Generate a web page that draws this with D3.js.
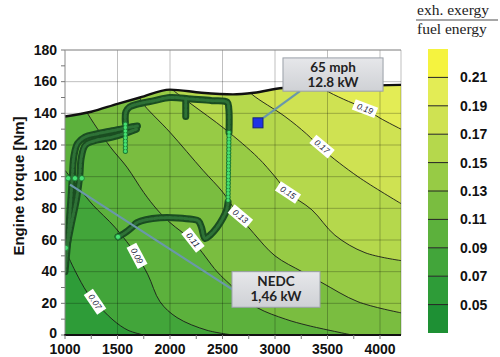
<!DOCTYPE html>
<html><head><meta charset="utf-8">
<script src="https://cdn.jsdelivr.net/npm/d3@7"></script>
<style>body{margin:0;background:#fff}svg{display:block}</style>
</head><body><svg id="c" width="500" height="357"></svg>
<script>
// ---------- data ----------
const xTicks = [1000,1500,2000,2500,3000,3500,4000];
const yTicks = [0,20,40,60,80,100,120,140,160,180];
const levels = [0.07,0.09,0.11,0.13,0.15,0.17,0.19];
const cbTicks = [0.05,0.07,0.09,0.11,0.13,0.15,0.17,0.19,0.21];
const cbColors = ["#1e9034","#2e9c38","#42a53a","#5cb13c","#7abd40","#97cb45","#b5d84c","#cfe252","#e3ec55","#f5f33f"];
const fullLoad = [[1000,138],[1250,141],[1500,146],[1714,150],[2000,155],[2300,153],[2600,152],[2800,153],[3076,156],[3500,157],[4200,158]];
const c07 = [[1000,54],[1100,40],[1210,27],[1286,21],[1457,9.5],[1600,3],[1750,0]];
const c09 = [[1000,104],[1143,92],[1267,82],[1476,68],[1686,50],[1790,38],[1905,21],[2067,11],[2352,3],[2600,0]];
const c11 = [[1180,145],[1206,141],[1429,119],[1590,106],[1750,90],[1880,79],[2000,71],[2219,59],[2448,40],[2571,32],[2700,24],[2838,17],[3100,10],[3314,6],[3733,0]];
const c13 = [[1700,152],[1733,147],[2000,128],[2314,104],[2505,90],[2650,76],[2800,64],[3000,50],[3257,40],[3448,33],[3790,21],[4200,14]];
const c15 = [[2000,156],[2200,146],[2524,130],[2838,112],[3000,100],[3124,90],[3352,79],[3571,63],[3857,52],[4200,47]];
const c17 = [[2700,158],[2781,152],[3095,138],[3300,127],[3457,117],[3790,100],[4200,83]];
const c19 = [[3400,160],[3476,155],[3650,149],[3857,143],[4000,137],[4200,130]];
const contours = [c07,c09,c11,c13,c15,c17,c19];
const labelPos = [[1286,21],[1686,50],[2219,60],[2670,75],[3124,90],[3448,119],[3857,143]];
const labelAngle = [56,62,52,40,33,40,21];
// operating-point traces (rpm, Nm)
const traceS1 = [[1000,40],[1030,62],[1055,85],[1070,100],[1085,113],[1120,121],[1190,125],[1300,127],[1450,129],[1600,131],[1690,132]];
const traceS2 = [[1000,50],[1060,70],[1110,86],[1140,100],[1155,112],[1195,120],[1300,123],[1450,125],[1600,128],[1680,130]];
const traceTop = [[1575,134],[1580,141],[1615,144],[1700,146],[1850,148],[2000,150],[2200,149],[2400,148],[2545,147],[2560,143],[2562,128]];
const traceBlob = [[2150,149],[2150,138]];
const traceLow = [[2553,84],[2540,79],[2505,74],[2448,68],[2381,63],[2333,61],[2300,68],[2270,72],[2219,73],[1905,74],[1686,71],[1638,68],[1560,64],[1505,62]];
const dotted1 = [[1575,116],[1575,134]];
const dotted2 = [[2562,128],[2553,84]];
const lightPts = [[1030,99],[1095,99],[1160,99],[1008,55],[1505,62]];
const point65 = [2838,134];
const pointer65 = [[2886,137],[3238,154]];
const pointerNEDC = [[1048,95],[2600,28.5]];
const box65Text = ["65 mph","12.8 kW"];
const box65Range = [[3076,4029],[154,175]];
const boxNEDCText = ["NEDC","1,46 kW"];
const boxNEDCRange = [[2590,3429],[17.5,40]];

// ---------- scales ----------
const svg = d3.select("#c");
const x = d3.scaleLinear().domain([1000,4200]).range([65,401]);
const y = d3.scaleLinear().domain([0,180]).range([335,50]);
const cb = d3.scaleLinear().domain([0.03,0.23]).range([333,49]);
const defs = svg.append("defs");

const flArea = d3.area().x(d=>x(d[0])).y0(y(0)).y1(d=>y(d[1])).curve(d3.curveMonotoneX);
defs.append("clipPath").attr("id","fl").append("path").attr("d", flArea(fullLoad));
defs.append("clipPath").attr("id","plot").append("rect")
  .attr("x",x(1000)).attr("y",y(180)).attr("width",x(4200)-x(1000)).attr("height",y(0)-y(180));

// ---------- field ----------
const field = svg.append("g").attr("clip-path","url(#fl)");
field.append("rect").attr("x",x(1000)).attr("y",y(180)).attr("width",x(4200)-x(1000)).attr("height",y(0)-y(180))
  .attr("fill",cbColors[1]);
const cLine = d3.line().x(d=>x(d[0])).y(d=>y(d[1])).curve(d3.curveCatmullRom.alpha(0.5));
contours.forEach((c,i)=>{
  const last = c[c.length-1], first = c[0];
  let p = cLine(c);
  p += `L${x(4400)},${last[1]<=0 ? y(-10) : y(last[1])}`;
  p += `L${x(4400)},${y(220)}L${x(first[0])},${y(220)}Z`;
  field.append("path").attr("d",p).attr("fill",cbColors[i+2]);
});
contours.forEach(c=>{
  field.append("path").attr("d",cLine(c)).attr("fill","none").attr("stroke","#1b1b1b").attr("stroke-width",0.9);
});

// ---------- grid ----------
const grid = svg.append("g");
xTicks.slice(1).forEach(v=>grid.append("line").attr("x1",x(v)).attr("x2",x(v)).attr("y1",y(180)).attr("y2",y(0))
  .attr("stroke","#000").attr("stroke-opacity",0.25));
yTicks.slice(1).forEach(v=>grid.append("line").attr("x1",x(1000)).attr("x2",x(4200)).attr("y1",y(v)).attr("y2",y(v))
  .attr("stroke","#000").attr("stroke-opacity",0.25));
grid.append("line").attr("x1",x(4200)).attr("x2",x(4200)).attr("y1",y(180)).attr("y2",y(0)).attr("stroke","#000").attr("stroke-opacity",0.25);

// ---------- traces ----------
const tg = svg.append("g").attr("clip-path","url(#plot)");
const tLine = d3.line().x(d=>x(d[0])).y(d=>y(d[1])).curve(d3.curveCatmullRom.alpha(0.5));
const thick = [traceS1,traceS2,traceTop,traceBlob,traceLow];
thick.forEach(t=>{
  tg.append("path").attr("d",tLine(t)).attr("fill","none").attr("stroke","#1a4d21").attr("stroke-width",7)
    .attr("stroke-linecap","round").attr("stroke-linejoin","round");
});
thick.forEach(t=>{
  tg.append("path").attr("d",tLine(t)).attr("fill","none").attr("stroke","#2e7236").attr("stroke-width",3)
    .attr("stroke-dasharray","3,2").attr("stroke-linecap","round").attr("stroke-linejoin","round");
});
[dotted1,dotted2].forEach(t=>{
  tg.append("path").attr("d",tLine(t)).attr("fill","none").attr("stroke","#1d7a33").attr("stroke-width",5.2)
    .attr("stroke-dasharray","0,3.4").attr("stroke-linecap","round");
  tg.append("path").attr("d",tLine(t)).attr("fill","none").attr("stroke","#45e070").attr("stroke-width",3.4)
    .attr("stroke-dasharray","0,3.4").attr("stroke-linecap","round");
});
tg.selectAll("circle.lp").data(lightPts).join("circle").attr("class","lp")
  .attr("cx",d=>x(d[0])).attr("cy",d=>y(d[1])).attr("r",2.6).attr("fill","#48e274").attr("stroke","#1d7a33").attr("stroke-width",0.8);

// ---------- contour labels ----------
levels.forEach((lv,i)=>{
  const g = svg.append("g").attr("transform",`translate(${x(labelPos[i][0])},${y(labelPos[i][1])}) rotate(${labelAngle[i]})`);
  g.append("rect").attr("x",-12).attr("y",-5.5).attr("width",24).attr("height",11).attr("fill","#fff");
  g.append("text").attr("text-anchor","middle").attr("dy","0.35em").attr("font-family","Liberation Sans, Arial, sans-serif")
    .attr("font-size",8.5).attr("font-style","italic").attr("fill","#1c1c3a").text(lv.toFixed(2));
});

// ---------- full load ----------
svg.append("path").attr("d",d3.line().x(d=>x(d[0])).y(d=>y(d[1])).curve(d3.curveMonotoneX)(fullLoad))
  .attr("fill","none").attr("stroke","#111").attr("stroke-width",2.4);

// ---------- axes ----------
const font = "Liberation Sans, Arial, Helvetica, sans-serif";
const ax = svg.append("g");
ax.append("line").attr("x1",x(1000)).attr("x2",x(1000)).attr("y1",y(180)).attr("y2",y(0)).attr("stroke","#8a8a8a");
ax.append("line").attr("x1",x(1000)).attr("x2",x(4200)).attr("y1",y(180)).attr("y2",y(180)).attr("stroke","#9a9a9a");
ax.append("line").attr("x1",x(1000)-1).attr("x2",x(4200)).attr("y1",y(0)).attr("y2",y(0)).attr("stroke","#111").attr("stroke-width",2);
d3.range(0,181,10).forEach(v=>ax.append("line").attr("x1",x(1000)-4).attr("x2",x(1000)).attr("y1",y(v)).attr("y2",y(v)).attr("stroke","#777"));
d3.range(1000,4201,250).forEach(v=>ax.append("line").attr("x1",x(v)).attr("x2",x(v)).attr("y1",y(0)).attr("y2",y(0)+4).attr("stroke","#777"));
yTicks.forEach(v=>ax.append("text").attr("x",x(1000)-8).attr("y",y(v)-(v===0?2:0)).attr("dy","0.34em").attr("text-anchor","end")
  .attr("font-family",font).attr("font-weight","bold").attr("font-size",14).attr("fill","#111").text(v));
xTicks.forEach(v=>ax.append("text").attr("x",x(v)).attr("y",y(0)+19).attr("text-anchor","middle")
  .attr("font-family",font).attr("font-weight","bold").attr("font-size",14).attr("fill","#111").text(v));
ax.append("text").attr("transform","translate(24,186) rotate(-90)").attr("text-anchor","middle")
  .attr("font-family",font).attr("font-weight","bold").attr("font-size",15).attr("fill","#111").text("Engine torque [Nm]");

// ---------- annotations ----------
const pLine = d3.line().x(d=>x(d[0])).y(d=>y(d[1]));
[pointer65,pointerNEDC].forEach(p=>svg.append("path").attr("d",pLine(p)).attr("stroke","#6a98aa").attr("stroke-width",2.2).attr("fill","none"));
svg.append("rect").attr("x",x(point65[0])-5).attr("y",y(point65[1])-5).attr("width",10).attr("height",10)
  .attr("fill","#1f33e6").attr("stroke","#17237a").attr("stroke-width",1);
const gr = defs.append("linearGradient").attr("id","bx").attr("x1",0).attr("x2",0).attr("y1",0).attr("y2",1);
gr.append("stop").attr("offset","0").attr("stop-color","#e6e7ea");
gr.append("stop").attr("offset","1").attr("stop-color","#cfd1d5");
function box(rng, lines){
  const x0=x(rng[0][0]), x1=x(rng[0][1]), y0=y(rng[1][1]), y1=y(rng[1][0]);
  svg.append("rect").attr("x",x0).attr("y",y0).attr("width",x1-x0).attr("height",y1-y0)
    .attr("fill","url(#bx)").attr("stroke","#9aa0a8").attr("stroke-width",1);
  lines.forEach((t,i)=>svg.append("text").attr("x",(x0+x1)/2).attr("y",y0+(i===0?14:29.5)).attr("text-anchor","middle")
    .attr("font-family","Lato, Open Sans, sans-serif").attr("font-weight","bold").attr("font-size",13.5).attr("fill","#222").text(t));
}
box(box65Range, box65Text);
box(boxNEDCRange, boxNEDCText);

// ---------- colorbar ----------
const cbg = svg.append("g");
cbColors.forEach((c,i)=>{
  const v0 = 0.03+0.02*i, v1 = v0+0.02;
  cbg.append("rect").attr("x",428).attr("y",cb(v1)).attr("width",20).attr("height",cb(v0)-cb(v1)).attr("fill",c);
});
cbTicks.forEach(v=>{
  cbg.append("line").attr("x1",428).attr("x2",448).attr("y1",cb(v)).attr("y2",cb(v)).attr("stroke","#222").attr("stroke-width",1);
  cbg.append("text").attr("x",460).attr("y",cb(v)).attr("dy","0.36em").attr("font-family",font).attr("font-weight","bold")
    .attr("font-size",14).attr("fill","#111").text(v.toFixed(2));
});
cbg.append("text").attr("x",417).attr("y",15).attr("font-family","Liberation Serif, Times New Roman, serif").attr("font-size",15.5).attr("fill","#222").text("exh. exergy");
cbg.append("line").attr("x1",416).attr("x2",498).attr("y1",20).attr("y2",20).attr("stroke","#888").attr("stroke-width",1.5);
cbg.append("text").attr("x",417).attr("y",34).attr("font-family","Liberation Serif, Times New Roman, serif").attr("font-size",15.5).attr("fill","#222").text("fuel energy");
</script></body></html>
